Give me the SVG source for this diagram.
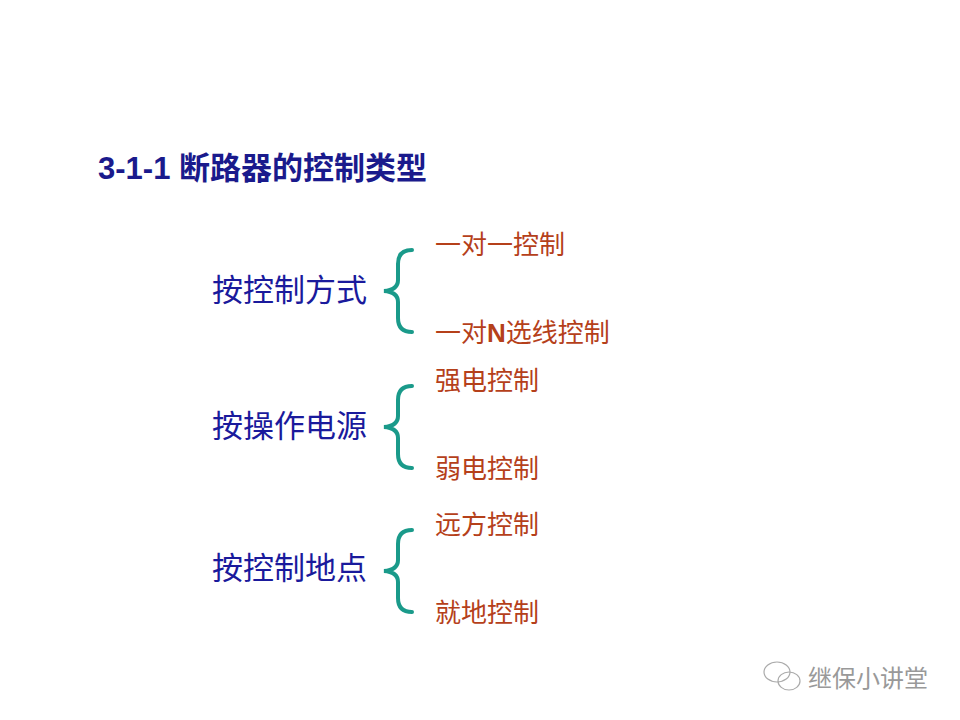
<svg xmlns="http://www.w3.org/2000/svg" width="960" height="720" viewBox="0 0 960 720">
<style>
.t{font-family:"Liberation Sans","Noto Sans CJK SC",sans-serif;font-weight:bold;font-size:31px;fill:#1a1a8c}
.m{font-family:"Noto Sans CJK SC",sans-serif;font-size:31px;fill:#1a1a9c}
.s{font-family:"Liberation Sans","Noto Sans CJK SC",sans-serif;font-size:26px;fill:#b5401a}
.b{fill:none;stroke:#1a9a8a;stroke-width:4;stroke-linecap:round}
.w{font-family:"Noto Sans CJK SC",sans-serif;font-size:24px;fill:#999}
</style>
<rect width="960" height="720" fill="#fff"/>
<text class="t" x="98" y="179">3-1-1 断路器的控制类型</text>
<g id="g1"><text class="m" x="212" y="301">按控制方式</text>
<path class="b" d="M412,250 Q398,250 398,264 L398,280 Q398,290 384,291 Q398,292 398,302 L398,318 Q398,332 412,332"/>
<text class="s" x="435" y="254">一对一控制</text>
<text class="s" x="435" y="342">一对<tspan font-weight="bold">N</tspan>选线控制</text></g>
<g id="g2"><text class="m" x="212" y="437">按操作电源</text>
<path class="b" d="M412,386 Q398,386 398,400 L398,416 Q398,426 384,427 Q398,428 398,438 L398,454 Q398,468 412,468"/>
<text class="s" x="435" y="390">强电控制</text>
<text class="s" x="435" y="478">弱电控制</text></g>
<g id="g3"><text class="m" x="212" y="579">按控制地点</text>
<path class="b" d="M412,530 Q398,530 398,544 L398,560 Q398,570 384,571 Q398,572 398,582 L398,598 Q398,612 412,612"/>
<text class="s" x="435" y="534">远方控制</text>
<text class="s" x="435" y="622">就地控制</text></g>
<g id="wm" fill="none" stroke="#aaa" stroke-width="1.2">
<ellipse cx="777" cy="672" rx="13" ry="10"/>
<ellipse cx="789" cy="681" rx="11" ry="9"/>
</g>
<text class="w" x="808" y="687">继保小讲堂</text>
</svg>
